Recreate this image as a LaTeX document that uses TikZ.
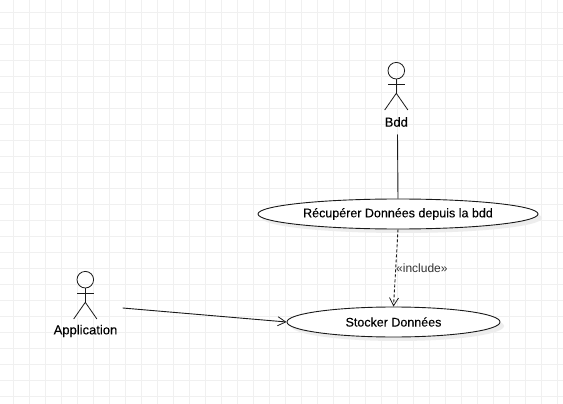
\documentclass[tikz,border=0pt]{standalone}
\usepackage{fontspec}
\setmainfont{Liberation Sans}
\newfontfamily\labelfont[FakeBold=0.12]{Liberation Sans}
\usetikzlibrary{shapes.geometric,shadows,arrows.meta}
\definecolor{gridc}{HTML}{F0F0F0}
\definecolor{inkc}{HTML}{1A1A1A}
\definecolor{softc}{HTML}{333333}
\tikzset{
  x=1pt,y=-1pt,
  gridline/.style={gridc,line width=1pt},
  usecase/.style={ellipse,draw=inkc,fill=white,line width=0.9pt,inner sep=0pt,
    minimum width=280pt,minimum height=30pt,font=\labelfont\fontsize{12.5}{14}\selectfont,text=black,
    drop shadow={shadow xshift=4pt,shadow yshift=-4pt,fill=black!7,opacity=1}},
  actorline/.style={draw=inkc,line width=0.8pt},
  actorlabel/.style={font=\labelfont\fontsize{13}{15}\selectfont,text=black,inner sep=0pt},
  assoc/.style={draw=inkc,line width=0.9pt},
  openarrow/.style={-{Straight Barb[length=8pt,width=9pt,line width=0.8pt]}},
  incl/.style={assoc,dash pattern=on 3pt off 2pt,-{Straight Barb[length=8pt,width=9pt,line width=0.8pt]}},
  incllabel/.style={font=\fontsize{12}{14}\selectfont,text=softc,inner sep=0pt},
  pics/umlactor/.style={code={
    \draw[actorline] (0,-9.3) circle[radius=8.3];
    \draw[actorline] (0,-1) -- (0,13.3);
    \draw[actorline] (-8.3,4.3) -- (8.3,4.3);
    \draw[actorline] (-11.6,30) -- (0,13.3) -- (11.6,30);
  }}
}
\begin{document}
\begin{tikzpicture}
\useasboundingbox (0,0) rectangle (563,404);
\fill[white] (0,0) rectangle (563,404);
\foreach \gx in {13.5,29.5,...,557.5} \draw[gridline] (\gx,0) -- (\gx,404);
\foreach \gy in {12.5,28.5,...,396.5} \draw[gridline] (0,\gy) -- (563,\gy);

\pic at (396.3,80) {umlactor};
\node[actorlabel] (bdd) at (396.3,122) {Bdd};
\coordinate (bddfoot) at (397.5,134.5);

\pic at (85.3,289) {umlactor};
\node[actorlabel] (app) at (85.5,331) {Application};
\coordinate (appout) at (122.7,308);

\node[usecase] (rec) at (398,214) {Récupérer Données depuis la bdd};
\node[usecase,minimum width=213pt] (sto) at (393.5,322) {Stocker Données};

\draw[assoc] (bddfoot) -- (rec.north);
\draw[assoc,openarrow] (appout) -- (sto.west);
\draw[incl] (rec.south) -- (sto.north);
\node[incllabel,anchor=west] (inc) at (396,268.5) {«include»};
\end{tikzpicture}
\end{document}
